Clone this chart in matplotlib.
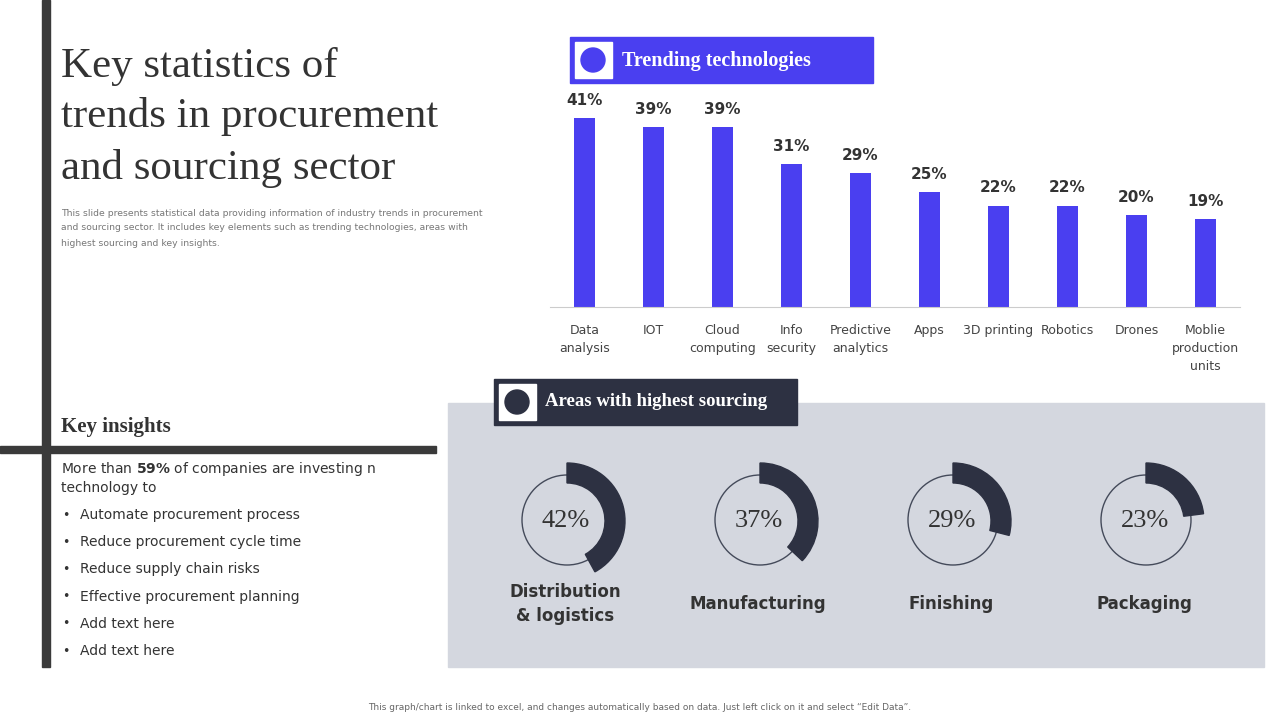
import matplotlib
matplotlib.use("Agg")
import matplotlib.pyplot as plt
from matplotlib.patches import Rectangle, Wedge, Circle

categories = ["Data\nanalysis", "IOT", "Cloud\ncomputing", "Info\nsecurity", "Predictive\nanalytics",
              "Apps", "3D printing", "Robotics", "Drones", "Moblie\nproduction\nunits"]
values = [41, 39, 39, 31, 29, 25, 22, 22, 20, 19]
donut_labels = ["Distribution\n& logistics", "Manufacturing", "Finishing", "Packaging"]
donut_values = [42, 37, 29, 23]
bullets = ["Automate procurement process", "Reduce procurement cycle time", "Reduce supply chain risks",
           "Effective procurement planning", "Add text here", "Add text here"]

BLUE = "#4a3ff0"
DARK = "#2d3142"
TXT = "#333333"
SERIF = "Liberation Serif"

fig = plt.figure(figsize=(12.8, 7.2), dpi=100)
bg = fig.add_axes([0, 0, 1, 1])
bg.set_xlim(0, 1280); bg.set_ylim(720, 0); bg.axis("off")

# left structure
bg.add_patch(Rectangle((42, 0), 8, 667, color="#3a3a3a"))
bg.add_patch(Rectangle((0, 446), 436, 7, color="#3a3a3a"))
for i, line in enumerate(["Key statistics of", "trends in procurement", "and sourcing sector"]):
    bg.text(61, 66 + i * 51, line, fontsize=31, family=SERIF, color=TXT, va="center")
sub = ["This slide presents statistical data providing information of industry trends in procurement",
       "and sourcing sector. It includes key elements such as trending technologies, areas with",
       "highest sourcing and key insights."]
for i, s in enumerate(sub):
    bg.text(61, 213 + i * 15, s, fontsize=6.7, color="#777777", va="center")
bg.text(61, 427, "Key insights", fontsize=15, family=SERIF, weight="bold", color=TXT, va="center")
bg.text(61, 469, "More than $\\bf{59\\%}$ of companies are investing n", fontsize=10, color=TXT, va="center")
bg.text(61, 488, "technology to", fontsize=10, color=TXT, va="center")
for i, b in enumerate(bullets):
    y = 515 + i * 27.2
    bg.text(62, y, "•", fontsize=9, color=TXT, va="center")
    bg.text(80, y, b, fontsize=10, color=TXT, va="center")

# trending header
bg.add_patch(Rectangle((570, 37), 303, 46, color=BLUE))
bg.add_patch(Rectangle((575, 42), 37, 36, color="white"))
bg.add_patch(Circle((593, 60), 12, color=BLUE))
bg.text(622, 61, "Trending technologies", fontsize=14.5, family=SERIF, weight="bold",
        color="white", va="center")

# gray panel
bg.add_patch(Rectangle((448, 403), 816, 264, color="#d4d7df"))
bg.add_patch(Rectangle((494, 379), 303, 46, color=DARK))
bg.add_patch(Rectangle((499, 384), 37, 36, color="white"))
bg.add_patch(Circle((517, 402), 12, color=DARK))
bg.text(545, 402, "Areas with highest sourcing", fontsize=13.5, family=SERIF, weight="bold",
        color="white", va="center")

xs = [567, 760, 953, 1146]
for x, v, lab in zip(xs, donut_values, donut_labels):
    cy = 520
    bg.add_patch(Circle((x, cy), 45, fill=False, ec="#444a5a", lw=1))
    bg.add_patch(Wedge((x, cy + 1), 58, -90, -90 + 360 * v / 100, width=20, color=DARK))
    bg.text(x - 1, cy + 1, f"{v}%", fontsize=19, family=SERIF, color=TXT,
            ha="center", va="center")
    bg.text(x - 2, 604, lab, fontsize=12, weight="bold", color=TXT, ha="center", va="center",
            linespacing=1.4)

bg.text(640, 707, "This graph/chart is linked to excel, and changes automatically based on data. Just left click on it and select \u201cEdit Data\u201d.",
        fontsize=6.5, color="#666666", ha="center", va="center")

# bar chart
ax = fig.add_axes([550 / 1280, 1 - 307 / 720, 690 / 1280, 227 / 720])
x = range(len(values))
ax.bar(x, values, width=0.3, color=BLUE)
ax.set_xlim(-0.5, len(values) - 0.5)
ax.set_ylim(0, 227 / 4.61)
for i, v in enumerate(values):
    ax.text(i, v + 2.2, f"{v}%", ha="center", va="bottom", fontsize=11, weight="bold", color=TXT)
ax.set_xticks(list(x))
ax.set_xticklabels(categories, fontsize=9, color="#444444", linespacing=1.5, va="top")
ax.tick_params(axis="x", length=0, pad=12)
ax.set_yticks([])
for s in ["top", "right", "left"]:
    ax.spines[s].set_visible(False)
ax.spines["bottom"].set_color("#cccccc")
ax.patch.set_alpha(0)

fig.savefig("out.png", dpi=100)
